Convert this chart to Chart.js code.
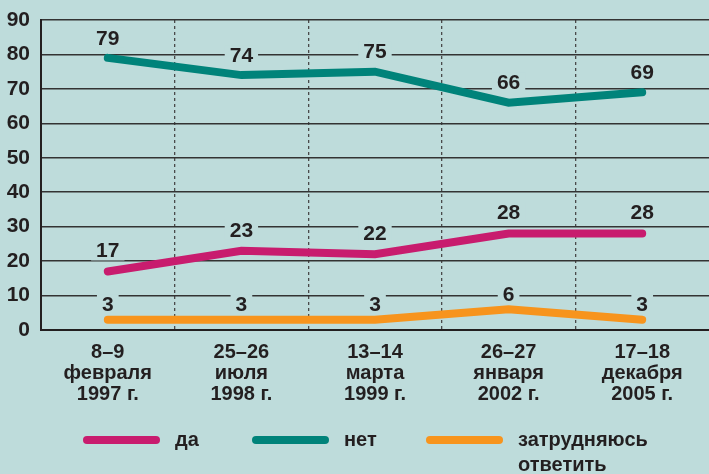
<!DOCTYPE html>
<html>
<head>
<meta charset="utf-8">
<script src="https://cdn.jsdelivr.net/npm/chart.js@4/dist/chart.umd.min.js"></script>
<style>
  html, body { margin: 0; padding: 0; background: #bedcdb; }
  #wrap { width: 709px; height: 474px; position: relative; }
</style>
</head>
<body>
<div id="wrap"><canvas id="line_chart"></canvas></div>
<script>
var categories = [
  ['8–9', 'февраля', '1997 г.'],
  ['25–26', 'июля', '1998 г.'],
  ['13–14', 'марта', '1999 г.'],
  ['26–27', 'января', '2002 г.'],
  ['17–18', 'декабря', '2005 г.']
];
var yes_values = [17, 23, 22, 28, 28];
var no_values = [79, 74, 75, 66, 69];
var unsure_values = [3, 3, 3, 6, 3];
var series_names = ['да', 'нет', ['затрудняюсь', 'ответить']];

var bg = '#bedcdb';
var ink = '#231f20';
var font_family = '"Liberation Sans", Arial, sans-serif';

// value labels sit on a patch of background so the grid lines break around them
var valueLabels = {
  id: 'valueLabels',
  beforeDatasetsDraw: function(chart) {
    var ctx = chart.ctx;
    ctx.save();
    ctx.font = 'bold 21px ' + font_family;
    ctx.textAlign = 'center';
    ctx.textBaseline = 'middle';
    chart.data.datasets.forEach(function(ds, i) {
      var meta = chart.getDatasetMeta(i);
      meta.data.forEach(function(pt, j) {
        var txt = String(ds.data[j]);
        var y = pt.y - ds.labelOffset;
        var w = ctx.measureText(txt).width;
        ctx.fillStyle = bg;
        ctx.fillRect(pt.x - w / 2 - 5, y - 10, w + 10, 20);
        ctx.fillStyle = ink;
        ctx.fillText(txt, pt.x, y + 1);
      });
    });
    ctx.restore();
  }
};

var bottomLegend = {
  id: 'bottomLegend',
  afterDraw: function(chart) {
    var ctx = chart.ctx;
    var starts = [83, 252, 426];
    ctx.save();
    ctx.font = 'bold 20px ' + font_family;
    ctx.textBaseline = 'middle';
    ctx.textAlign = 'left';
    chart.data.datasets.forEach(function(ds, i) {
      var x = starts[i];
      var y = 440;
      ctx.strokeStyle = ds.borderColor;
      ctx.lineWidth = 8;
      ctx.lineCap = 'round';
      ctx.beginPath();
      ctx.moveTo(x + 4, y);
      ctx.lineTo(x + 73, y);
      ctx.stroke();
      ctx.fillStyle = ink;
      var lines = [].concat(ds.label);
      lines.forEach(function(t, k) {
        ctx.fillText(t, x + 92, y + k * 25);
      });
    });
    ctx.restore();
  }
};

var ctx = document.getElementById('line_chart');
var myChart = new Chart(ctx, {
  type: 'line',
  data: {
    labels: categories,
    datasets: [{
      label: series_names[0],
      data: yes_values,
      borderColor: '#c81c6e',
      labelOffset: 21
    }, {
      label: series_names[1],
      data: no_values,
      borderColor: '#00837a',
      labelOffset: 20
    }, {
      label: series_names[2],
      data: unsure_values,
      borderColor: '#f7941d',
      labelOffset: 15
    }]
  },
  options: {
    responsive: true,
    maintainAspectRatio: false,
    animation: false,
    layout: { padding: { top: 20, left: 0, right: 0, bottom: 0 } },
    elements: {
      line: { borderWidth: 8, tension: 0, borderCapStyle: 'round', borderJoinStyle: 'miter' },
      point: { radius: 0, hoverRadius: 0 }
    },
    plugins: {
      legend: { display: false },
      tooltip: { enabled: false }
    },
    scales: {
      x: {
        offset: true,
        afterFit: function(scale) { scale.height = 144; },
        grid: {
          offset: true,
          drawTicks: false,
          lineWidth: 1.3,
          color: function(c) { return c.index >= 1 ? '#4a4a4a' : 'rgba(0,0,0,0)'; }
        },
        border: { display: true, color: ink, width: 2, dash: [3, 3] },
        ticks: {
          color: ink,
          padding: 12,
          maxRotation: 0,
          font: { family: font_family, weight: 'bold', size: 20, lineHeight: 1.05 }
        }
      },
      y: {
        min: 0,
        max: 90,
        afterFit: function(scale) {
          scale.width = 41;
          scale.paddingTop = 0;
          scale.paddingBottom = 0;
        },
        grid: { drawTicks: false, color: '#333', lineWidth: 1.5 },
        border: { display: true, color: ink, width: 2 },
        ticks: {
          stepSize: 10,
          color: ink,
          padding: 11,
          font: { family: font_family, weight: 'bold', size: 21 }
        }
      }
    }
  },
  plugins: [valueLabels, bottomLegend]
});
</script>
</body>
</html>
